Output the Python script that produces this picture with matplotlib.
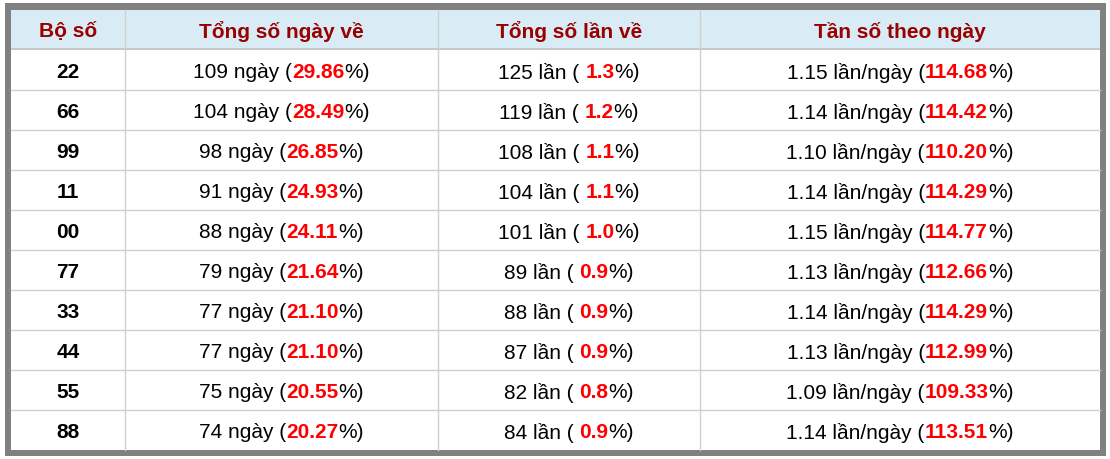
import matplotlib
matplotlib.use("Agg")
import matplotlib.pyplot as plt
from matplotlib.patches import Rectangle

headers = ["Bộ số", "Tổng số ngày về", "Tổng số lần về", "Tần số theo ngày"]
bo_so = ["22", "66", "99", "11", "00", "77", "33", "44", "55", "88"]
ngay = [109, 104, 98, 91, 88, 79, 77, 77, 75, 74]
ngay_pct = ["29.86", "28.49", "26.85", "24.93", "24.11", "21.64", "21.10", "21.10", "20.55", "20.27"]
lan = [125, 119, 108, 104, 101, 89, 88, 87, 82, 84]
lan_pct = ["1.3", "1.2", "1.1", "1.1", "1.0", "0.9", "0.9", "0.9", "0.8", "0.9"]
tanso = ["1.15", "1.14", "1.10", "1.14", "1.15", "1.13", "1.14", "1.13", "1.09", "1.14"]
tanso_pct = ["114.68", "114.42", "110.20", "114.29", "114.77", "112.66", "114.29", "112.99", "109.33", "113.51"]

W, H = 1110, 459
fig = plt.figure(figsize=(W/100, H/100), dpi=100)
ax = fig.add_axes([0, 0, 1, 1])
ax.set_xlim(0, W); ax.set_ylim(H, 0); ax.axis("off")
FONT = "Liberation Sans"
FS = 15

ax.add_patch(Rectangle((5, 3), 1101, 453, facecolor="#808080", edgecolor="none"))
L, R, T, B = 11, 1100, 10, 450
ax.add_patch(Rectangle((L, T), R-L, B-T, facecolor="white", edgecolor="none"))
ax.add_patch(Rectangle((L, T), R-L, 38, facecolor="#d9ecf5", edgecolor="none"))
ax.add_patch(Rectangle((L, 48), R-L, 2, facecolor="#c8c8c8", edgecolor="none"))

cols = [L, 125, 438, 700, R]
for x in cols[1:-1]:
    ax.plot([x, x], [T, B], color="#d0d0d0", lw=1)
rowh = 40
y0 = 50
for i in range(1, len(bo_so)):
    y = y0 + i*rowh
    ax.plot([L, R], [y, y], color="#d0d0d0", lw=1)

centers = [(cols[i]+cols[i+1])/2 for i in range(4)]
for c, h in zip(centers, headers):
    ax.text(c, 30, h, ha="center", va="center_baseline", fontsize=FS, fontweight="bold",
            color="#990000", family=FONT)

fig.canvas.draw()
rend = fig.canvas.get_renderer()

def seg_text(cx, cy, parts):
    objs = []
    for s, col, bold in parts:
        t = ax.text(0, cy, s, ha="left", va="center_baseline", fontsize=FS, color=col,
                    fontweight="bold" if bold else "normal", family=FONT)
        objs.append(t)
    widths = [o.get_window_extent(rend).width for o in objs]
    x = cx - sum(widths)/2
    for o, w in zip(objs, widths):
        o.set_x(x); x += w

for i in range(len(bo_so)):
    cy = y0 + i*rowh + rowh/2 + 1
    ax.text(centers[0], cy, bo_so[i], ha="center", va="center_baseline", fontsize=FS,
            fontweight="bold", color="black", family=FONT)
    seg_text(centers[1], cy, [(f"{ngay[i]} ngày (", "black", False),
                              (ngay_pct[i], "#ff0000", True), ("%)", "black", False)])
    seg_text(centers[2], cy, [(f"{lan[i]} lần ( ", "black", False),
                              (lan_pct[i], "#ff0000", True), ("%)", "black", False)])
    seg_text(centers[3], cy, [(f"{tanso[i]} lần/ngày (", "black", False),
                              (tanso_pct[i], "#ff0000", True), ("%)", "black", False)])

fig.savefig("out.png", dpi=100)
